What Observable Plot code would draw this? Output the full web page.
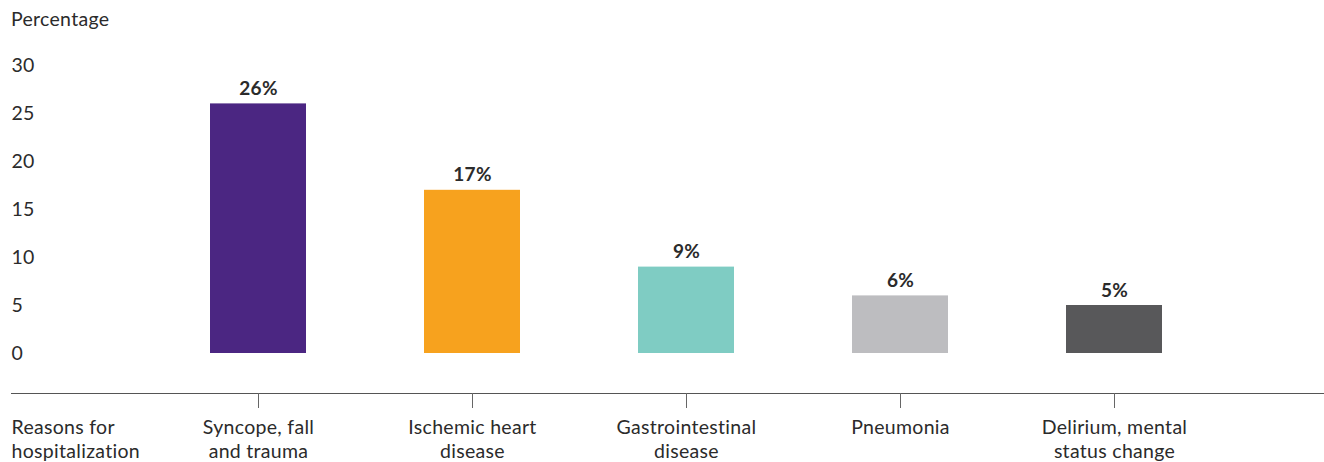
<!DOCTYPE html>
<html>
<head>
<meta charset="utf-8">
<script src="https://cdn.jsdelivr.net/npm/d3@7"></script>
<script src="https://cdn.jsdelivr.net/npm/@observablehq/plot@0.6"></script>
<style>
  body { margin: 0; background: #fff; font-family: Lato, "Open Sans", sans-serif; }
  #title { height: 40px; font-size: 19.5px; line-height: 19.5px; padding-top: 9px; box-sizing: border-box; padding-left: 11px; color: #2b2b2b; letter-spacing: 0.3px; }
  svg text { letter-spacing: 0.3px; }
</style>
</head>
<body>
<div id="title">Percentage</div>
<div id="chart"></div>
<script>
const categories = ["Syncope, fall\nand trauma", "Ischemic heart\ndisease", "Gastrointestinal\ndisease", "Pneumonia", "Delirium, mental\nstatus change"];
const values = [26, 17, 9, 6, 5];
const colors = ["#4b2682", "#f7a21e", "#7fccc3", "#bdbdc0", "#58585a"];
const yTicks = [0, 5, 10, 15, 20, 25, 30];
const axisTitle = "Reasons for\nhospitalization";

const data = categories.map((c, i) => ({category: c, value: values[i]}));

const chart = Plot.plot({
  width: 1324,
  height: 422,
  marginLeft: 11,
  marginRight: 0,
  marginTop: 20,
  marginBottom: 69,
  style: {fontFamily: "Lato, 'Open Sans', sans-serif", fontSize: "19.5px", color: "#2b2b2b", background: "white"},
  x: {domain: categories, range: [102, 1270.5], paddingInner: 0.5524, paddingOuter: 0.5, axis: null},
  y: {domain: [0, 30], range: [313, 25], axis: null},
  color: {domain: categories, range: colors},
  marks: [
    Plot.frame({anchor: "bottom", stroke: "#555"}),
    Plot.axisY(yTicks, {anchor: "left", tickSize: 0, tickPadding: 0, textAnchor: "start", fill: "#2b2b2b", fontSize: 19.5, label: null}),
    Plot.axisX({anchor: "bottom", tickSize: 15, tickPadding: 8, stroke: "#666", fill: "#2b2b2b", fontSize: 19.5, lineHeight: 1.23, label: null}),
    Plot.barY(data, {x: "category", y: "value", fill: "category"}),
    Plot.text(data, {x: "category", y: "value", text: d => d.value + "%", dy: -9, lineAnchor: "bottom", fontWeight: "bold", fontSize: 19, fill: "#2b2b2b"}),
    Plot.text([axisTitle], {frameAnchor: "bottom-left", text: d => d, dy: 23, lineAnchor: "top", textAnchor: "start", fontSize: 19.5, lineHeight: 1.23, fill: "#2b2b2b"})
  ]
});
document.getElementById("chart").appendChild(chart);
</script>
</body>
</html>
